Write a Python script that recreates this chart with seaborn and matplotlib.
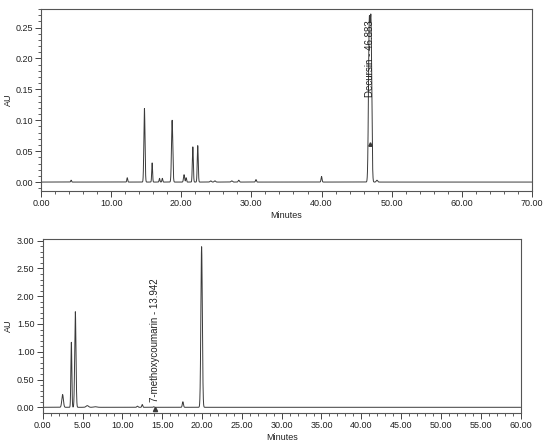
import numpy as np
import pandas as pd
import matplotlib
matplotlib.use('Agg')
import matplotlib.pyplot as plt
import seaborn as sns
from matplotlib.ticker import MultipleLocator, FormatStrFormatter

# Peak tables (retention time in min, height in AU, width sigma in min)
top_rt = [4.3, 12.3, 14.75, 15.85, 16.9, 17.3, 18.7, 20.4, 20.7, 21.65, 22.35,
          24.2, 24.8, 27.2, 28.2, 30.65, 40.0, 46.8, 47.05, 47.9]
top_height = [0.003, 0.007, 0.119, 0.031, 0.006, 0.006, 0.100, 0.012, 0.007, 0.057, 0.059,
              0.002, 0.002, 0.002, 0.003, 0.004, 0.009, 0.245, 0.248, 0.003]
top_width = [0.06, 0.06, 0.08, 0.06, 0.06, 0.06, 0.09, 0.08, 0.06, 0.07, 0.07,
             0.10, 0.10, 0.10, 0.08, 0.07, 0.07, 0.11, 0.11, 0.10]

bottom_rt = [2.5, 3.6, 4.1, 5.6, 6.6, 11.9, 12.5, 13.942, 17.6, 19.95]
bottom_height = [0.23, 1.17, 1.72, 0.03, 0.01, 0.02, 0.05, 0.01, 0.10, 2.89]
bottom_width = [0.10, 0.06, 0.08, 0.15, 0.20, 0.08, 0.06, 0.06, 0.07, 0.09]

top_label = 'Decursin - 46.883'
top_label_rt = 46.883
bottom_label = '7-methoxycoumarin - 13.942'
bottom_label_rt = 13.942


def trace(t, rts, heights, widths):
    y = np.zeros_like(t)
    for rt, h, w in zip(rts, heights, widths):
        y += h * np.exp(-0.5 * ((t - rt) / w) ** 2)
    return y


t_top = np.linspace(0, 70, 14001)
t_bot = np.linspace(0, 60, 12001)
df_top = pd.DataFrame({'Minutes': t_top, 'AU': trace(t_top, top_rt, top_height, top_width)})
df_bot = pd.DataFrame({'Minutes': t_bot, 'AU': trace(t_bot, bottom_rt, bottom_height, bottom_width)})

sns.set_theme(style='ticks')
plt.rcParams['font.family'] = ['Liberation Sans', 'DejaVu Sans']

fig = plt.figure(figsize=(5.5, 4.46), dpi=100)
ax1 = fig.add_axes([0.0745, 0.5717, 0.8927, 0.408])
ax2 = fig.add_axes([0.0776, 0.0747, 0.869, 0.3895])

line_color = '#3a3a3a'
sns.lineplot(data=df_top, x='Minutes', y='AU', ax=ax1, color=line_color, linewidth=0.7, estimator=None)
sns.lineplot(data=df_bot, x='Minutes', y='AU', ax=ax2, color=line_color, linewidth=0.7, estimator=None)

ax1.set_xlim(0, 70)
ax1.set_ylim(-0.0145, 0.28)
ax1.xaxis.set_major_locator(MultipleLocator(10))
ax1.xaxis.set_minor_locator(MultipleLocator(2))
ax1.yaxis.set_major_locator(MultipleLocator(0.05))
ax1.yaxis.set_minor_locator(MultipleLocator(0.01))

ax2.set_xlim(0, 60)
ax2.set_ylim(-0.097, 3.03)
ax2.xaxis.set_major_locator(MultipleLocator(5))
ax2.xaxis.set_minor_locator(MultipleLocator(1))
ax2.yaxis.set_major_locator(MultipleLocator(0.5))
ax2.yaxis.set_minor_locator(MultipleLocator(0.1))

for ax in (ax1, ax2):
    ax.xaxis.set_major_formatter(FormatStrFormatter('%.2f'))
    ax.yaxis.set_major_formatter(FormatStrFormatter('%.2f'))
    ax.tick_params(which='major', direction='out', length=4, width=0.7, labelsize=6.5,
                   pad=2, color='#444444', labelcolor='#222222')
    ax.tick_params(which='minor', direction='out', length=2.2, width=0.6, color='#444444')
    for s in ax.spines.values():
        s.set_visible(True)
        s.set_linewidth(0.8)
        s.set_color('#555555')
    ax.set_xlabel('Minutes', fontsize=6.5, labelpad=2, color='#222222')
    ax.set_ylabel('AU', fontsize=6.5, color='#222222')
    ax.grid(False)

ax1.yaxis.set_label_coords(-0.057, 0.5)
ax2.yaxis.set_label_coords(-0.062, 0.5)

# peak annotations
ax1.text(top_label_rt, 0.137, top_label, rotation=90, ha='center', va='bottom',
         fontsize=7, color='#222222')
ax1.plot([top_label_rt], [0.062], marker='^', markersize=2.5, color=line_color)
ax2.text(bottom_label_rt + 0.2, 0.095, bottom_label, rotation=90, ha='center', va='bottom',
         fontsize=7, color='#222222')
ax2.plot([bottom_label_rt + 0.2], [-0.03], marker='^', markersize=3, color=line_color)

fig.savefig('out.png', dpi=100)
plt.close(fig)
